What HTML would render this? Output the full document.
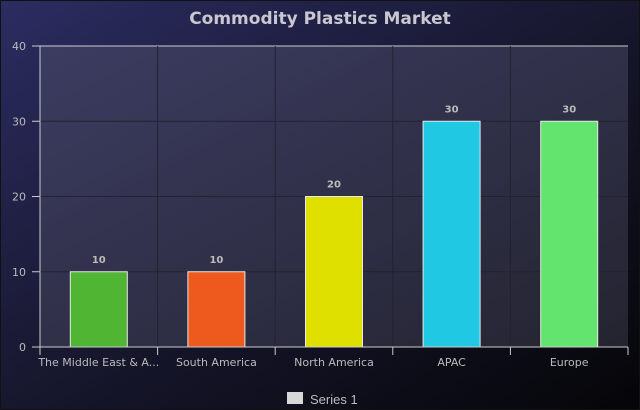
<!DOCTYPE html>
<html><head><meta charset="utf-8"><style>
html,body{margin:0;padding:0;width:640px;height:410px;overflow:hidden;background:#000}
svg{display:block;font-family:"DejaVu Sans","Liberation Sans",sans-serif}
</style></head><body>
<svg width="640" height="410">
<defs>
<linearGradient id="bg" x1="0" y1="0" x2="1" y2="1">
<stop offset="0" stop-color="#2c2c62"/><stop offset="0.5" stop-color="#17172e"/><stop offset="1" stop-color="#050508"/></linearGradient>
<linearGradient id="pa" x1="0" y1="0" x2="1" y2="1">
<stop offset="0" stop-color="#3c3c62"/><stop offset="1" stop-color="#242430"/></linearGradient>
</defs>
<rect x="0" y="0" width="640" height="410" fill="url(#bg)"/>
<rect x="0.5" y="0.5" width="639" height="409" fill="none" stroke="#111"/>
<text x="320" y="24" text-anchor="middle" fill="#c8c8d0" font-size="17" font-weight="bold">Commodity Plastics Market</text>
<rect x="40" y="46" width="588" height="301" fill="url(#pa)"/>
<g id="grid"></g><g id="bars"></g><g id="axes"></g>
<g>
<rect x="287" y="392" width="16" height="12" fill="#d8d8d8"/>
<text x="310" y="404" fill="#bbb" font-size="13" font-family="Liberation Sans, sans-serif">Series 1</text>
</g>
</svg>
<script>
const categories=["The Middle East & A...","South America","North America","APAC","Europe"];
const values=[10,10,20,30,30];
const colors=["#4fb533","#ee5a1e","#dfe000","#20c8e4","#62e46e"];
const yTicks=[0,10,20,30,40];
const ns="http://www.w3.org/2000/svg";
const X0=40,X1=628,Y0=347,Y1=46,YMAX=40;
const bw=(X1-X0)/categories.length;
const y=v=>Y0-(v/YMAX)*(Y0-Y1);
function mk(t,a,p,txt){const e=document.createElementNS(ns,t);for(const k in a)e.setAttribute(k,a[k]);if(txt!=null)e.textContent=txt;document.getElementById(p).appendChild(e);return e;}
yTicks.forEach(v=>{
 const g=mk("line",{x1:X0,x2:X1,y1:y(v),y2:y(v),stroke:v===40?"#ccc":"#222230","stroke-width":1},"grid");
 
 
 const tk=mk("line",{x1:X0-8,x2:X0,y1:y(v),y2:y(v),stroke:"#ccc"},"axes");
 
 
 const t=mk("text",{x:X0-14,y:y(v)+4,"text-anchor":"end",fill:"#bbb","font-size":11},"axes",v);
 
 
});
categories.forEach((c,i)=>{
 const cx=X0+bw*(i+0.5);
 if(i>0){const gl=mk("line",{x1:X0+bw*i,x2:X0+bw*i,y1:Y1,y2:Y0,stroke:"#222230"},"grid");
 
 }
 const tk=mk("line",{x1:X0+bw*i,x2:X0+bw*i,y1:Y0,y2:Y0+8,stroke:"#ccc"},"axes");
 
 
 const r=mk("rect",{x:cx-28.5,y:y(values[i]),width:57,height:Y0-y(values[i]),fill:colors[i],stroke:"#e8e8e8","stroke-width":1},"bars");
 
 
 const vl=mk("text",{x:cx,y:y(values[i])-9,"text-anchor":"middle",fill:"#bbb","font-size":10,"font-weight":"bold"},"bars",values[i]);
 
 
 const xl=mk("text",{x:cx,y:Y0+19,"text-anchor":"middle",fill:"#bbb","font-size":11},"axes",c);
 
 
});
const ya=mk("line",{x1:X0,x2:X0,y1:Y1,y2:Y0,stroke:"#ccc"},"axes");


const xa=mk("line",{x1:X0,x2:X1,y1:Y0,y2:Y0,stroke:"#ccc"},"axes");


const te=mk("line",{x1:X1,x2:X1,y1:Y0,y2:Y0+8,stroke:"#ccc"},"axes");


</script>
</body></html>
